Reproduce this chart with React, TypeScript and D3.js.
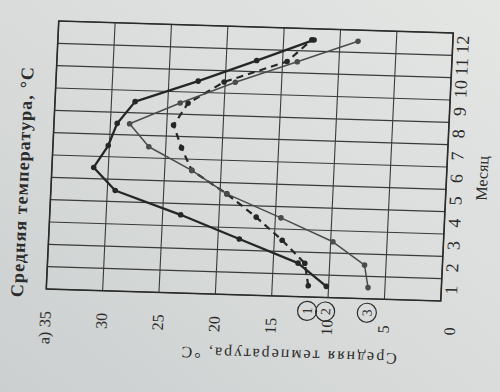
import React from 'react';
import * as d3 from 'd3';

// months on the horizontal axis, temperatures (°C)
const months = [1, 2, 3, 4, 5, 6, 7, 8, 9, 10, 11, 12];
const tempTicks = [35, 30, 25, 20, 15, 10, 5, 0];

// (1) dashed, (2) dark solid, (3) thin grey solid
const series1 = [11.8, 12.2, 14.3, 16.7, 19.4, 22.6, 23.6, 24.4, 23.2, 20.1, 14.6, 12.5];
const series2 = [10.2, 12.8, 18.1, 23.4, 29.3, 31.3, 30.1, 29.4, 27.9, 22.4, 17.3, 12.3];
const series3 = [6.5, 6.9, 9.8, 14.5, 19.4, 22.6, 26.5, 28.3, 23.9, 19.1, 13.7, 8.4];
const seriesKeys = ['1', '2', '3'];

const title = 'Средняя температура, °С';
const yLabel = 'Средняя температура, °С';
const xLabel = 'Месяц';
const panelLabel = 'а)';

// plot size in its own (upright) frame
const W = 268;
const H = 394;

// the page was photographed turned on its side: map the upright frame onto the photo
const ORIGIN = [46.25, 289];
const U = [12.5, -268]; // along months
const V = [394.5, 12]; // down the temperature axis

const FONT = '"Liberation Serif", "DejaVu Serif", serif';
const INK = '#2c2c2c';

const App: React.FC = () => {
  const x = d3.scaleBand<number>().domain(months).range([0, W]).padding(0);
  const y = d3.scaleLinear().domain([0, 35]).range([H, 0]);
  const bw = x.bandwidth();
  const cx = (m: number) => (x(m) || 0) + bw / 2;

  const line = d3
    .line<number>()
    .x((_, i) => cx(months[i]))
    .y((d) => y(d));

  const series = [
    { values: series1, stroke: '#262626', width: 2.2, dash: '7,5' },
    { values: series2, stroke: '#262626', width: 2.3, dash: undefined },
    { values: series3, stroke: '#4c4c4c', width: 1.5, dash: undefined },
  ];

  const edges = [...months.map((m) => x(m) || 0), W];
  const matrix = `matrix(${U[0] / W},${U[1] / W},${V[0] / H},${V[1] / H},${ORIGIN[0]},${ORIGIN[1]})`;

  return (
    <svg
      width={500}
      height={392}
      style={{ position: 'fixed', left: 0, top: 0, display: 'block' }}
      fontFamily={FONT}
    >
      <defs>
        <linearGradient id="paper" x1="1" y1="0" x2="0" y2="1">
          <stop offset="0%" stopColor="#e4e6e4" />
          <stop offset="55%" stopColor="#d8dbda" />
          <stop offset="100%" stopColor="#cbcfcf" />
        </linearGradient>
      </defs>
      <rect width={500} height={392} fill="url(#paper)" />

      <g transform={matrix}>
        {/* grid */}
        {tempTicks.map((t) => (
          <line key={'h' + t} x1={0} x2={W} y1={y(t)} y2={y(t)} stroke="#3a3a3a" strokeWidth={1.1} />
        ))}
        {edges.map((e, i) => (
          <line key={'v' + i} x1={e} x2={e} y1={0} y2={H} stroke="#3a3a3a" strokeWidth={1.1} />
        ))}
        <rect x={0} y={0} width={W} height={H} fill="none" stroke="#2a2a2a" strokeWidth={1.6} />

        {/* series */}
        {series.map((s, i) => (
          <g key={'s' + i}>
            <path
              d={line(s.values) || ''}
              fill="none"
              stroke={s.stroke}
              strokeWidth={s.width}
              strokeDasharray={s.dash}
              strokeLinejoin="round"
            />
            {s.values.map((v, j) => (
              <circle key={j} cx={cx(months[j])} cy={y(v)} r={2.8} fill={s.stroke} />
            ))}
          </g>
        ))}

        {/* circled series keys beside the January values */}
        {series.map((s, i) => (
          <g key={'k' + i} transform={`translate(-14,${y(s.values[0])})`}>
            <circle r={9.5} fill="none" stroke={INK} strokeWidth={1.2} />
            <text textAnchor="middle" dy="0.35em" fontSize={14} fill={INK}>
              {seriesKeys[i]}
            </text>
          </g>
        ))}

        {/* temperature ticks */}
        {tempTicks.map((t) => (
          <text
            key={'t' + t}
            x={-30}
            y={y(t) + (t === 0 ? 10 : 0)}
            dy="0.35em"
            textAnchor="middle"
            fontSize={16}
            fill={INK}
          >
            {t}
          </text>
        ))}
        <text x={-49} y={y(35)} dy="0.35em" textAnchor="middle" fontSize={16} fill={INK}>
          {panelLabel}
        </text>

        {/* month ticks */}
        {months.map((m) => (
          <text key={'m' + m} x={cx(m)} y={H + 16} textAnchor="middle" fontSize={18} fill={INK}>
            {m}
          </text>
        ))}
        <text x={cx(6) + 1} y={H + 41} textAnchor="middle" fontSize={16} fill={INK}>
          {xLabel}
        </text>

        {/* titles */}
        <text
          x={-9}
          y={-23}
          fontSize={18}
          fontWeight="bold"
          fill={INK}
          textLength={230}
          lengthAdjust="spacing"
        >
          {title}
        </text>
        <text
          transform={`translate(-59,${y(13.2)}) rotate(-90)`}
          textAnchor="middle"
          dy="0.35em"
          fontSize={16}
          fill={INK}
          textLength={215}
          lengthAdjust="spacing"
        >
          {yLabel}
        </text>
      </g>
    </svg>
  );
};

export default App;
